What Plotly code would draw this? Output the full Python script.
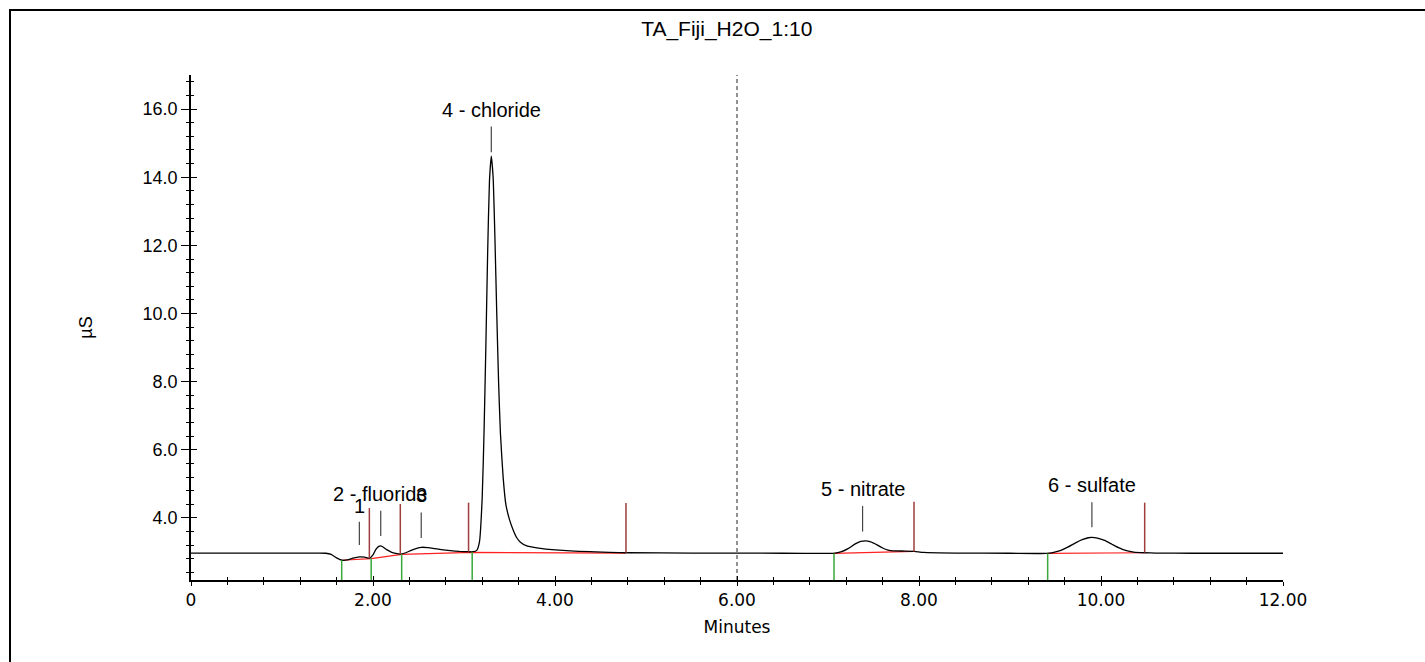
import plotly.graph_objects as go

# ---------------- data ----------------
time_min = [0.00, 0.50, 1.00, 1.40, 1.48, 1.54, 1.60, 1.66, 1.72, 1.78, 1.85, 1.91, 1.96,
            2.00, 2.03, 2.06, 2.08, 2.11, 2.15, 2.20, 2.25, 2.30, 2.36, 2.42, 2.48, 2.535,
            2.60, 2.66, 2.75, 2.85, 2.95, 3.05, 3.10, 3.14, 3.17, 3.20, 3.22, 3.24, 3.26,
            3.28, 3.30, 3.32, 3.34, 3.36, 3.38, 3.40, 3.43, 3.46, 3.50, 3.54, 3.58, 3.62,
            3.69, 3.84, 4.13, 4.60, 4.80, 5.50, 6.50, 7.00, 7.08, 7.15, 7.22, 7.30, 7.36,
            7.41, 7.47, 7.54, 7.60, 7.66, 7.72, 7.85, 7.95, 8.05, 8.40, 9.00, 9.40, 9.48,
            9.56, 9.64, 9.72, 9.80, 9.86, 9.90, 9.96, 10.04, 10.12, 10.20, 10.28, 10.36,
            10.48, 10.60, 11.00, 12.00]
signal_uS = [2.97, 2.97, 2.97, 2.97, 2.965, 2.93, 2.83, 2.76, 2.77, 2.82, 2.86, 2.85, 2.82,
             2.92, 3.07, 3.16, 3.18, 3.15, 3.07, 3.00, 2.96, 2.94, 2.98, 3.05, 3.11, 3.14,
             3.13, 3.11, 3.07, 3.04, 3.02, 3.01, 3.01, 3.05, 3.30, 4.60, 6.50, 9.00, 11.80,
             13.90, 14.62, 14.00, 12.20, 10.00, 8.00, 6.50, 5.20, 4.40, 3.95, 3.65, 3.42, 3.29,
             3.18, 3.11, 3.04, 2.99, 2.98, 2.97, 2.965, 2.96, 2.97, 3.01, 3.10, 3.24, 3.31,
             3.33, 3.30, 3.21, 3.12, 3.06, 3.035, 3.03, 3.02, 2.99, 2.97, 2.965, 2.96, 2.99,
             3.05, 3.15, 3.27, 3.37, 3.42, 3.43, 3.41, 3.34, 3.23, 3.12, 3.04, 3.00,
             2.98, 2.97, 2.965, 2.965]

peak_names = ["1", "2 - fluoride", "3", "4 - chloride", "5 - nitrate", "6 - sulfate"]
peak_times = [1.85, 2.085, 2.53, 3.30, 7.38, 9.90]
peak_tick_low = [3.21, 3.47, 3.41, 14.73, 3.60, 3.73]
peak_tick_high = [3.89, 4.21, 4.16, 15.49, 4.35, 4.46]
peak_label_y = [4.35, 4.69, 4.68, 15.97, 4.85, 4.96]

end_times = [1.96, 2.30, 3.05, 4.78, 7.945, 10.48]
end_low = [2.82, 2.94, 3.01, 2.98, 3.02, 2.98]
end_high = [4.29, 4.41, 4.45, 4.44, 4.48, 4.45]

start_times = [1.656, 1.98, 2.315, 3.09, 7.066, 9.414]
start_high = [2.76, 2.82, 2.94, 3.00, 2.96, 2.96]

baseline_x = [[1.656, 1.98, 2.315, 3.09, 4.78], [7.066, 7.945], [9.414, 10.48]]
baseline_y = [[2.76, 2.81, 2.93, 2.99, 2.97], [2.96, 3.02], [2.96, 2.98]]

cursor_time = 6.0
x_range = [0, 12]
y_range = [2.18, 17.0]
x_ticks = [0, 2, 4, 6, 8, 10, 12]
x_tick_text = ["0", "2.00", "4.00", "6.00", "8.00", "10.00", "12.00"]
y_ticks = [4, 6, 8, 10, 12, 14, 16]
y_tick_text = ["4.0", "6.0", "8.0", "10.0", "12.0", "14.0", "16.0"]

title_text = "TA_Fiji_H2O_1:10"
x_title = "Minutes"
y_title = "µS"

# ---------------- helpers ----------------
def segments(xs, lows, highs):
    sx, sy = [], []
    for x, lo, hi in zip(xs, lows, highs):
        sx += [x, x, None]
        sy += [lo, hi, None]
    return sx, sy

ARIAL = "Liberation Sans, Arial, sans-serif"
TAHOMA = "DejaVu Sans, Verdana, sans-serif"

fig = go.Figure()

# integration baselines (red)
bx, by = [], []
for xs, ys in zip(baseline_x, baseline_y):
    bx += xs + [None]
    by += ys + [None]
fig.add_trace(go.Scatter(x=bx, y=by, mode="lines", line=dict(color="#ff2020", width=1.2),
                         hoverinfo="skip", showlegend=False))

# chromatogram
fig.add_trace(go.Scatter(x=time_min, y=signal_uS, mode="lines",
                         line=dict(color="black", width=1.3, shape="spline", smoothing=0.5),
                         showlegend=False))

# peak end markers (dark red)
ex, ey = segments(end_times, end_low, end_high)
fig.add_trace(go.Scatter(x=ex, y=ey, mode="lines", line=dict(color="#a03c3c", width=1.5),
                         hoverinfo="skip", showlegend=False))

# peak start markers (green)
sx, sy = segments(start_times, [y_range[0]] * len(start_times), start_high)
fig.add_trace(go.Scatter(x=sx, y=sy, mode="lines", line=dict(color="#3aa83a", width=1.5),
                         hoverinfo="skip", showlegend=False))

# peak label ticks
px_, py_ = segments(peak_times, peak_tick_low, peak_tick_high)
fig.add_trace(go.Scatter(x=px_, y=py_, mode="lines", line=dict(color="#444444", width=1.2),
                         hoverinfo="skip", showlegend=False))

# cursor dashed line (on overlay axes so the inside ticks are drawn)
fig.add_trace(go.Scatter(x=[cursor_time, cursor_time], y=y_range, mode="lines",
                         line=dict(color="#222222", width=1, dash="4px,3px"),
                         xaxis="x2", yaxis="y2", hoverinfo="skip", showlegend=False))

for name, t, ly in zip(peak_names, peak_times, peak_label_y):
    fig.add_annotation(x=t, y=ly, text=name, showarrow=False, xanchor="center",
                       yanchor="middle", font=dict(family=ARIAL, size=20, color="black"))

x_minor = [round(i * 0.4, 2) for i in range(1, 31)]
y_minor = [round(i * 0.4, 2) for i in range(6, 43)]

fig.update_layout(
    width=1425, height=662,
    margin=dict(l=191, r=142, t=75, b=82),
    paper_bgcolor="white", plot_bgcolor="white",
    title=dict(text=title_text, x=0.510, xanchor="center", xref="container",
               y=0.956, yanchor="middle", yref="container",
               font=dict(family=ARIAL, size=21, color="black")),
    xaxis=dict(range=x_range, tickmode="array", tickvals=x_ticks, ticktext=x_tick_text,
               ticks="outside", ticklen=4, tickwidth=1.2, tickcolor="black",
               minor=dict(tickmode="array", tickvals=x_minor, ticks="outside", ticklen=3,
                          tickwidth=1, tickcolor="black"),
               showline=True, linecolor="black", linewidth=1.6, showgrid=False,
               zeroline=False, tickfont=dict(family=TAHOMA, size=17, color="black"),
               title=dict(text=x_title, font=dict(family=TAHOMA, size=17, color="black"),
                          standoff=12)),
    yaxis=dict(range=y_range, tickmode="array", tickvals=y_ticks, ticktext=y_tick_text,
               ticks="outside", ticklen=8, tickwidth=1.2, tickcolor="black",
               minor=dict(tickmode="array", tickvals=y_minor, ticks="outside", ticklen=3,
                          tickwidth=1, tickcolor="black"),
               showline=True, linecolor="black", linewidth=1.6, showgrid=False,
               zeroline=False, tickfont=dict(family=ARIAL, size=18, color="black"),
               title=dict(text=y_title, font=dict(family=ARIAL, size=18, color="black"),
                          standoff=45)),
    xaxis2=dict(range=x_range, overlaying="x", anchor="y2", side="bottom",
                tickmode="array", tickvals=x_ticks, ticks="inside", ticklen=4,
                tickwidth=1.2, tickcolor="black", showticklabels=False,
                minor=dict(tickmode="array", tickvals=x_minor, ticks="inside", ticklen=3,
                           tickwidth=1, tickcolor="black"),
                showline=False, showgrid=False, zeroline=False),
    yaxis2=dict(range=y_range, overlaying="y", anchor="x2", side="left",
                tickmode="array", tickvals=y_ticks, ticks="inside", ticklen=6,
                tickwidth=1.2, tickcolor="black", showticklabels=False,
                minor=dict(tickmode="array", tickvals=y_minor, ticks="inside", ticklen=3,
                           tickwidth=1, tickcolor="black"),
                showline=False, showgrid=False, zeroline=False),
)

# outer frame (top and left edges visible)
fig.add_shape(type="rect", xref="paper", yref="paper",
              x0=(10 - 191) / 1092, x1=(1440 - 191) / 1092,
              y0=(580 - 680) / 505, y1=(580 - 10) / 505,
              line=dict(color="black", width=2), fillcolor="rgba(0,0,0,0)", layer="above")

fig.write_html("out.html", config={"displayModeBar": False},
               post_script="document.body.style.margin='0';")
